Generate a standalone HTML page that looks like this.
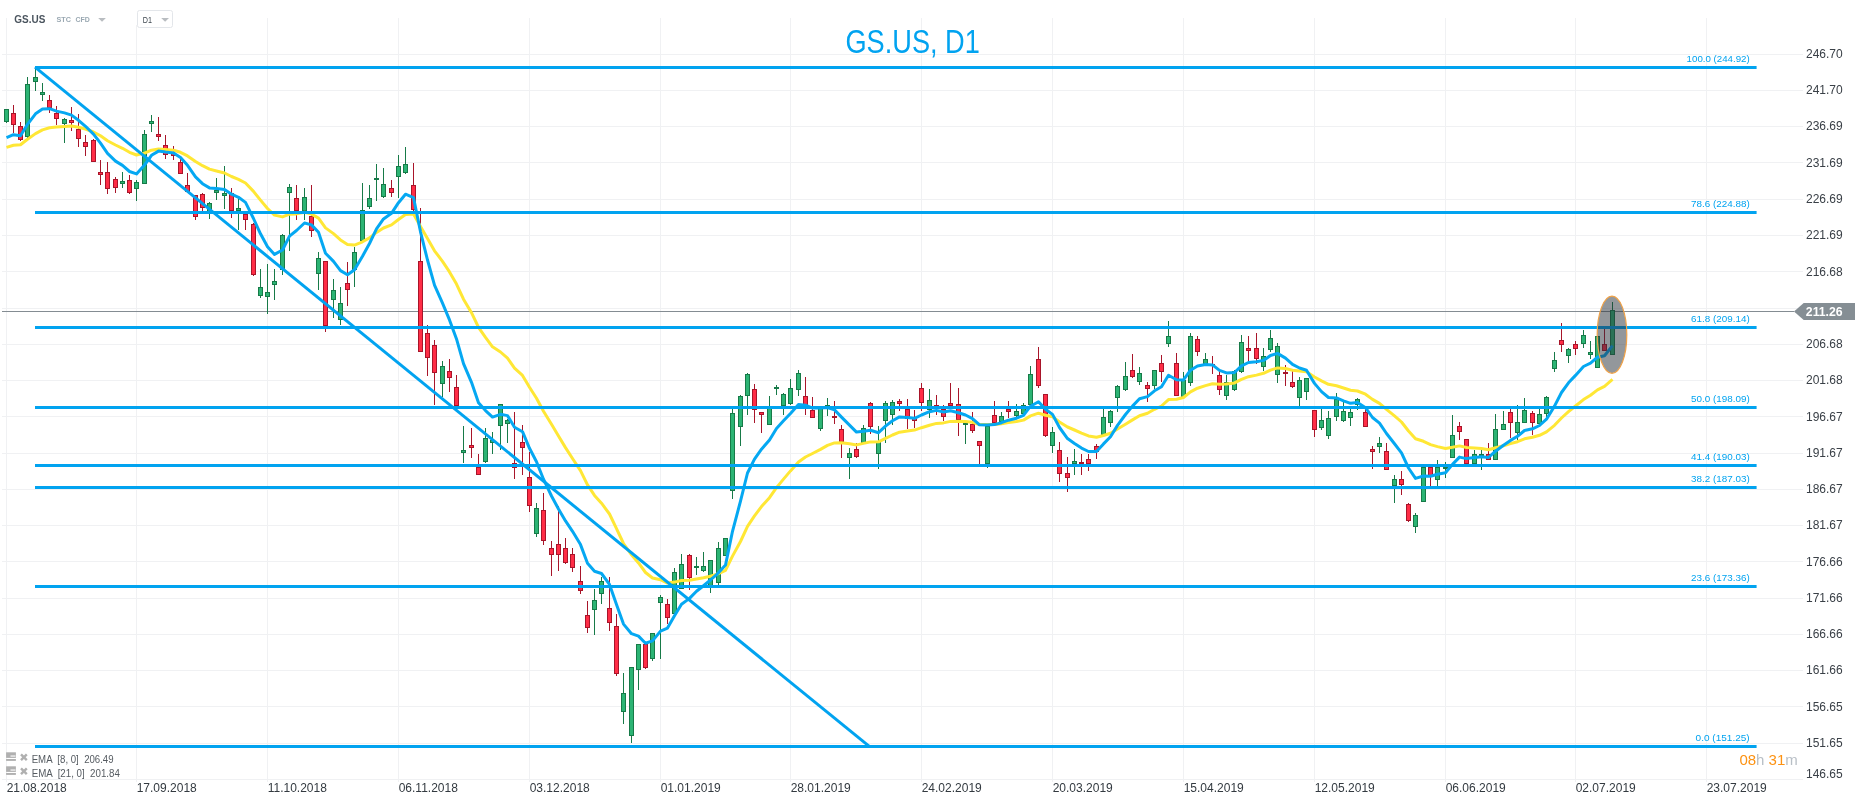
<!DOCTYPE html>
<html><head><meta charset="utf-8"><style>
html,body{margin:0;padding:0;background:#fff;width:1866px;height:805px;overflow:hidden;font-family:"Liberation Sans",sans-serif;}
svg{display:block;will-change:transform;} svg text{}
</style></head><body>
<svg width="1866" height="805" viewBox="0 0 1866 805">
<rect width="1866" height="805" fill="#ffffff"/>
<path d="M2 54.5H1803M2 90.5H1803M2 126.5H1803M2 162.5H1803M2 199.5H1803M2 235.5H1803M2 271.5H1803M2 308.5H1803M2 344.5H1803M2 380.5H1803M2 416.5H1803M2 453.5H1803M2 489.5H1803M2 525.5H1803M2 561.5H1803M2 598.5H1803M2 634.5H1803M2 670.5H1803M2 706.5H1803M2 743.5H1803M2 779.5H1803M6.5 18V782M136.5 25V782M267.5 18V782M398.5 18V782M529.5 18V782M660.5 18V782M790.5 18V782M921.5 18V782M1052.5 18V782M1183.5 18V782M1314.5 18V782M1445.5 18V782M1575.5 18V782M1706.5 18V782" stroke="#f0f1f3" stroke-width="1" fill="none" shape-rendering="crispEdges"/>
<path d="M2 311.5H1794" stroke="#848c92" stroke-width="1" shape-rendering="crispEdges"/>
<path d="M6.5 109V123M27.5 77V138M35.5 68V91M42.5 83V101M64.5 118V143M122.5 172V188M136.5 180V201M144.5 130V184M151.5 115V132M209.5 202V219M216.5 178V200M224.5 166V209M238.5 199V230M260.5 269V298M267.5 264V314M274.5 269V300M282.5 234V275M289.5 184V251M304.5 188V220M318.5 252V290M333.5 279V318M340.5 287V325M354.5 247V287M362.5 183V241M369.5 185V209M376.5 164V201M383.5 168V198M398.5 155V198M405.5 147V174M442.5 361V397M463.5 426V463M485.5 428V463M492.5 432V454M500.5 404V450M507.5 419V443M536.5 503V537M594.5 589V635M601.5 577V604M623.5 673V724M631.5 667V743M638.5 644V690M652.5 633V661M660.5 595V659M674.5 568V614M681.5 554V589M696.5 557V575M703.5 552V572M710.5 560V593M718.5 542V585M725.5 538V556M732.5 408V499M740.5 395V446M747.5 373V415M769.5 396V425M776.5 385V395M783.5 393V415M790.5 379V405M798.5 370V396M820.5 408V431M827.5 398V416M849.5 448V479M863.5 425V443M878.5 426V469M885.5 401V443M892.5 400V425M929.5 389V418M965.5 423V444M987.5 426V468M1001.5 412V423M1016.5 404V417M1023.5 403V415M1030.5 366V405M1052.5 427V453M1074.5 449V475M1103.5 409V435M1110.5 410V427M1117.5 385V412M1125.5 362V391M1139.5 367V385M1154.5 370V389M1168.5 321V347M1183.5 372V397M1190.5 333V386M1205.5 353V366M1226.5 375V400M1234.5 370V391M1241.5 335V373M1263.5 348V371M1270.5 330V352M1277.5 343V383M1299.5 377V406M1306.5 378V400M1321.5 409V430M1328.5 411V439M1336.5 393V421M1343.5 402V422M1350.5 409V426M1357.5 398V410M1379.5 437V453M1394.5 475V503M1415.5 513V533M1423.5 467V502M1437.5 460V486M1445.5 462V478M1452.5 415V458M1474.5 450V464M1481.5 450V470M1495.5 414V460M1503.5 411V430M1517.5 405V440M1524.5 398V423M1539.5 409V424M1546.5 396V417M1554.5 352V372M1568.5 348V363M1583.5 330V348M1590.5 341V359M1597.5 336V368M1612.5 302V355" stroke="#177a48" stroke-width="1" fill="none" shape-rendering="crispEdges"/>
<path d="M13.5 105V133M20.5 122V141M49.5 95V113M56.5 106V125M71.5 107V131M78.5 114V147M85.5 135V156M93.5 139V162M100.5 160V185M107.5 162V194M115.5 177V193M129.5 175V194M158.5 117V141M165.5 135V159M173.5 146V160M180.5 159V174M187.5 173V192M195.5 195V220M202.5 193V211M231.5 188V218M245.5 212V230M253.5 223V276M296.5 185V220M311.5 185V237M325.5 261V332M347.5 262V306M391.5 180V197M413.5 163V211M420.5 208V352M427.5 325V376M434.5 340V405M449.5 359V392M456.5 375V406M471.5 428V458M478.5 454V475M514.5 412V479M522.5 425V475M529.5 452V512M543.5 493V545M551.5 541V576M558.5 506V571M565.5 538V564M572.5 548V572M580.5 566V594M587.5 601V633M609.5 577V631M616.5 614V676M645.5 644V669M667.5 599V624M689.5 554V590M754.5 384V423M761.5 412V433M805.5 377V415M812.5 397V418M834.5 401V424M841.5 425V458M856.5 443V458M870.5 402V434M899.5 399V411M907.5 399V429M914.5 410V428M921.5 383V411M936.5 395V415M943.5 405V421M950.5 383V406M958.5 388V436M972.5 412V433M979.5 441V464M994.5 401V423M1008.5 401V418M1038.5 347V388M1045.5 394V437M1059.5 442V482M1067.5 457V492M1081.5 454V475M1088.5 454V471M1096.5 444V459M1132.5 354V378M1147.5 382V402M1161.5 355V382M1176.5 353V396M1197.5 336V356M1212.5 356V374M1219.5 371V395M1248.5 336V361M1256.5 333V364M1285.5 365V386M1292.5 371V388M1314.5 410V437M1365.5 406V427M1372.5 446V469M1386.5 443V470M1401.5 471V495M1408.5 503V522M1430.5 467V486M1459.5 422V440M1466.5 439V464M1488.5 443V460M1510.5 409V438M1532.5 411V435M1561.5 323V352M1575.5 341V355M1604.5 329V351" stroke="#a8152a" stroke-width="1" fill="none" shape-rendering="crispEdges"/>
<g fill="#2cb474" stroke="#177a48" stroke-width="1" shape-rendering="crispEdges"><rect x="4.5" y="109.5" width="4" height="12"/><rect x="25.5" y="84.5" width="4" height="52"/><rect x="33.5" y="77.5" width="4" height="4"/><rect x="40.5" y="92.5" width="4" height="2"/><rect x="62.5" y="119.5" width="4" height="4"/><rect x="120.5" y="181.5" width="4" height="2"/><rect x="134.5" y="182.5" width="4" height="6"/><rect x="142.5" y="134.5" width="4" height="49"/><rect x="149.5" y="121.5" width="4" height="2"/><rect x="207.5" y="203.5" width="4" height="9"/><rect x="214.5" y="190.5" width="4" height="2"/><rect x="222.5" y="193.5" width="4" height="2"/><rect x="236.5" y="208.5" width="4" height="2"/><rect x="258.5" y="287.5" width="4" height="8"/><rect x="265.5" y="292.5" width="4" height="4"/><rect x="272.5" y="281.5" width="4" height="3"/><rect x="280.5" y="235.5" width="4" height="34"/><rect x="287.5" y="187.5" width="4" height="5"/><rect x="302.5" y="197.5" width="4" height="13"/><rect x="316.5" y="258.5" width="4" height="15"/><rect x="331.5" y="290.5" width="4" height="9"/><rect x="338.5" y="303.5" width="4" height="16"/><rect x="352.5" y="252.5" width="4" height="17"/><rect x="360.5" y="210.5" width="4" height="30"/><rect x="367.5" y="198.5" width="4" height="8"/><rect x="374.5" y="178.5" width="4" height="1"/><rect x="381.5" y="184.5" width="4" height="12"/><rect x="396.5" y="166.5" width="4" height="10"/><rect x="403.5" y="164.5" width="4" height="8"/><rect x="440.5" y="366.5" width="4" height="17"/><rect x="461.5" y="450.5" width="4" height="2"/><rect x="483.5" y="438.5" width="4" height="23"/><rect x="490.5" y="440.5" width="4" height="2"/><rect x="498.5" y="404.5" width="4" height="21"/><rect x="505.5" y="420.5" width="4" height="3"/><rect x="534.5" y="508.5" width="4" height="25"/><rect x="592.5" y="600.5" width="4" height="9"/><rect x="599.5" y="581.5" width="4" height="12"/><rect x="621.5" y="693.5" width="4" height="18"/><rect x="629.5" y="667.5" width="4" height="68"/><rect x="636.5" y="644.5" width="4" height="25"/><rect x="650.5" y="633.5" width="4" height="25"/><rect x="658.5" y="597.5" width="4" height="5"/><rect x="672.5" y="572.5" width="4" height="41"/><rect x="679.5" y="564.5" width="4" height="24"/><rect x="694.5" y="566.5" width="4" height="1"/><rect x="701.5" y="566.5" width="4" height="4"/><rect x="708.5" y="560.5" width="4" height="25"/><rect x="716.5" y="548.5" width="4" height="34"/><rect x="723.5" y="538.5" width="4" height="17"/><rect x="730.5" y="413.5" width="4" height="77"/><rect x="738.5" y="396.5" width="4" height="30"/><rect x="745.5" y="374.5" width="4" height="21"/><rect x="767.5" y="408.5" width="4" height="16"/><rect x="774.5" y="387.5" width="4" height="1"/><rect x="781.5" y="394.5" width="4" height="11"/><rect x="788.5" y="388.5" width="4" height="15"/><rect x="796.5" y="373.5" width="4" height="16"/><rect x="818.5" y="408.5" width="4" height="20"/><rect x="825.5" y="405.5" width="4" height="2"/><rect x="847.5" y="453.5" width="4" height="4"/><rect x="861.5" y="428.5" width="4" height="14"/><rect x="876.5" y="442.5" width="4" height="11"/><rect x="883.5" y="403.5" width="4" height="17"/><rect x="890.5" y="402.5" width="4" height="12"/><rect x="927.5" y="400.5" width="4" height="9"/><rect x="963.5" y="423.5" width="4" height="1"/><rect x="985.5" y="426.5" width="4" height="37"/><rect x="999.5" y="416.5" width="4" height="5"/><rect x="1014.5" y="411.5" width="4" height="4"/><rect x="1021.5" y="405.5" width="4" height="8"/><rect x="1028.5" y="374.5" width="4" height="30"/><rect x="1050.5" y="432.5" width="4" height="13"/><rect x="1072.5" y="461.5" width="4" height="2"/><rect x="1101.5" y="417.5" width="4" height="17"/><rect x="1108.5" y="411.5" width="4" height="11"/><rect x="1115.5" y="386.5" width="4" height="11"/><rect x="1123.5" y="376.5" width="4" height="13"/><rect x="1137.5" y="373.5" width="4" height="8"/><rect x="1152.5" y="370.5" width="4" height="15"/><rect x="1166.5" y="336.5" width="4" height="7"/><rect x="1181.5" y="380.5" width="4" height="16"/><rect x="1188.5" y="336.5" width="4" height="46"/><rect x="1203.5" y="359.5" width="4" height="4"/><rect x="1224.5" y="382.5" width="4" height="13"/><rect x="1232.5" y="371.5" width="4" height="18"/><rect x="1239.5" y="342.5" width="4" height="29"/><rect x="1261.5" y="356.5" width="4" height="10"/><rect x="1268.5" y="338.5" width="4" height="11"/><rect x="1275.5" y="346.5" width="4" height="28"/><rect x="1297.5" y="380.5" width="4" height="17"/><rect x="1304.5" y="378.5" width="4" height="13"/><rect x="1319.5" y="420.5" width="4" height="7"/><rect x="1326.5" y="418.5" width="4" height="17"/><rect x="1334.5" y="399.5" width="4" height="17"/><rect x="1341.5" y="411.5" width="4" height="9"/><rect x="1348.5" y="412.5" width="4" height="5"/><rect x="1355.5" y="399.5" width="4" height="5"/><rect x="1377.5" y="443.5" width="4" height="3"/><rect x="1392.5" y="479.5" width="4" height="6"/><rect x="1413.5" y="515.5" width="4" height="11"/><rect x="1421.5" y="467.5" width="4" height="34"/><rect x="1435.5" y="467.5" width="4" height="12"/><rect x="1443.5" y="467.5" width="4" height="1"/><rect x="1450.5" y="435.5" width="4" height="22"/><rect x="1472.5" y="454.5" width="4" height="9"/><rect x="1479.5" y="454.5" width="4" height="1"/><rect x="1493.5" y="429.5" width="4" height="30"/><rect x="1501.5" y="424.5" width="4" height="5"/><rect x="1515.5" y="422.5" width="4" height="10"/><rect x="1522.5" y="410.5" width="4" height="12"/><rect x="1537.5" y="414.5" width="4" height="9"/><rect x="1544.5" y="397.5" width="4" height="16"/><rect x="1552.5" y="360.5" width="4" height="8"/><rect x="1566.5" y="349.5" width="4" height="6"/><rect x="1581.5" y="335.5" width="4" height="8"/><rect x="1588.5" y="352.5" width="4" height="2"/><rect x="1595.5" y="336.5" width="4" height="31"/><rect x="1610.5" y="310.5" width="4" height="44"/></g>
<g fill="#ff2d46" stroke="#a8152a" stroke-width="1" shape-rendering="crispEdges"><rect x="11.5" y="113.5" width="4" height="11"/><rect x="18.5" y="126.5" width="4" height="13"/><rect x="47.5" y="100.5" width="4" height="7"/><rect x="54.5" y="113.5" width="4" height="5"/><rect x="69.5" y="120.5" width="4" height="2"/><rect x="76.5" y="129.5" width="4" height="9"/><rect x="83.5" y="142.5" width="4" height="4"/><rect x="91.5" y="140.5" width="4" height="21"/><rect x="98.5" y="172.5" width="4" height="2"/><rect x="105.5" y="172.5" width="4" height="16"/><rect x="113.5" y="179.5" width="4" height="8"/><rect x="127.5" y="180.5" width="4" height="12"/><rect x="156.5" y="134.5" width="4" height="2"/><rect x="163.5" y="145.5" width="4" height="9"/><rect x="171.5" y="153.5" width="4" height="2"/><rect x="178.5" y="162.5" width="4" height="11"/><rect x="185.5" y="185.5" width="4" height="6"/><rect x="193.5" y="195.5" width="4" height="21"/><rect x="200.5" y="194.5" width="4" height="13"/><rect x="229.5" y="193.5" width="4" height="17"/><rect x="243.5" y="214.5" width="4" height="5"/><rect x="251.5" y="224.5" width="4" height="50"/><rect x="294.5" y="198.5" width="4" height="12"/><rect x="309.5" y="216.5" width="4" height="14"/><rect x="323.5" y="261.5" width="4" height="64"/><rect x="345.5" y="283.5" width="4" height="6"/><rect x="389.5" y="188.5" width="4" height="4"/><rect x="411.5" y="185.5" width="4" height="24"/><rect x="418.5" y="261.5" width="4" height="90"/><rect x="425.5" y="333.5" width="4" height="24"/><rect x="432.5" y="345.5" width="4" height="27"/><rect x="447.5" y="371.5" width="4" height="6"/><rect x="454.5" y="387.5" width="4" height="18"/><rect x="469.5" y="445.5" width="4" height="2"/><rect x="476.5" y="467.5" width="4" height="7"/><rect x="512.5" y="463.5" width="4" height="4"/><rect x="520.5" y="442.5" width="4" height="5"/><rect x="527.5" y="477.5" width="4" height="28"/><rect x="541.5" y="510.5" width="4" height="30"/><rect x="549.5" y="548.5" width="4" height="6"/><rect x="556.5" y="544.5" width="4" height="10"/><rect x="563.5" y="548.5" width="4" height="14"/><rect x="570.5" y="554.5" width="4" height="13"/><rect x="578.5" y="581.5" width="4" height="9"/><rect x="585.5" y="615.5" width="4" height="12"/><rect x="607.5" y="608.5" width="4" height="14"/><rect x="614.5" y="626.5" width="4" height="47"/><rect x="643.5" y="644.5" width="4" height="23"/><rect x="665.5" y="604.5" width="4" height="13"/><rect x="687.5" y="555.5" width="4" height="22"/><rect x="752.5" y="389.5" width="4" height="20"/><rect x="759.5" y="412.5" width="4" height="2"/><rect x="803.5" y="396.5" width="4" height="10"/><rect x="810.5" y="410.5" width="4" height="7"/><rect x="832.5" y="416.5" width="4" height="1"/><rect x="839.5" y="429.5" width="4" height="12"/><rect x="854.5" y="449.5" width="4" height="7"/><rect x="868.5" y="403.5" width="4" height="23"/><rect x="897.5" y="401.5" width="4" height="2"/><rect x="905.5" y="409.5" width="4" height="9"/><rect x="912.5" y="418.5" width="4" height="2"/><rect x="919.5" y="388.5" width="4" height="14"/><rect x="934.5" y="405.5" width="4" height="1"/><rect x="941.5" y="409.5" width="4" height="7"/><rect x="948.5" y="403.5" width="4" height="2"/><rect x="956.5" y="404.5" width="4" height="15"/><rect x="970.5" y="424.5" width="4" height="6"/><rect x="977.5" y="441.5" width="4" height="4"/><rect x="992.5" y="415.5" width="4" height="7"/><rect x="1006.5" y="409.5" width="4" height="2"/><rect x="1036.5" y="359.5" width="4" height="26"/><rect x="1043.5" y="394.5" width="4" height="41"/><rect x="1057.5" y="450.5" width="4" height="23"/><rect x="1065.5" y="473.5" width="4" height="4"/><rect x="1079.5" y="462.5" width="4" height="1"/><rect x="1086.5" y="459.5" width="4" height="4"/><rect x="1094.5" y="446.5" width="4" height="5"/><rect x="1130.5" y="370.5" width="4" height="6"/><rect x="1145.5" y="385.5" width="4" height="3"/><rect x="1159.5" y="363.5" width="4" height="8"/><rect x="1174.5" y="363.5" width="4" height="32"/><rect x="1195.5" y="339.5" width="4" height="12"/><rect x="1210.5" y="364.5" width="4" height="1"/><rect x="1217.5" y="375.5" width="4" height="14"/><rect x="1246.5" y="348.5" width="4" height="2"/><rect x="1254.5" y="348.5" width="4" height="10"/><rect x="1283.5" y="372.5" width="4" height="1"/><rect x="1290.5" y="382.5" width="4" height="4"/><rect x="1312.5" y="410.5" width="4" height="19"/><rect x="1363.5" y="412.5" width="4" height="14"/><rect x="1370.5" y="449.5" width="4" height="2"/><rect x="1384.5" y="451.5" width="4" height="18"/><rect x="1399.5" y="479.5" width="4" height="5"/><rect x="1406.5" y="504.5" width="4" height="16"/><rect x="1428.5" y="467.5" width="4" height="9"/><rect x="1457.5" y="426.5" width="4" height="5"/><rect x="1464.5" y="439.5" width="4" height="24"/><rect x="1486.5" y="454.5" width="4" height="5"/><rect x="1508.5" y="412.5" width="4" height="10"/><rect x="1530.5" y="413.5" width="4" height="9"/><rect x="1559.5" y="340.5" width="4" height="4"/><rect x="1573.5" y="344.5" width="4" height="4"/><rect x="1602.5" y="344.5" width="4" height="6"/></g>
<polyline points="6.5,147.4 13.5,145.3 20.5,144.8 27.5,139.3 35.5,133.6 42.5,129.9 49.5,127.8 56.5,127.1 64.5,126.4 71.5,126.0 78.5,127.2 85.5,129.0 93.5,132.0 100.5,135.8 107.5,140.7 115.5,145.0 122.5,148.3 129.5,152.3 136.5,155.0 144.5,153.1 151.5,150.2 158.5,149.0 165.5,149.5 173.5,150.2 180.5,152.3 187.5,155.9 195.5,161.5 202.5,165.7 209.5,169.1 216.5,171.0 224.5,173.0 231.5,176.5 238.5,179.3 245.5,183.0 253.5,191.4 260.5,200.1 267.5,208.5 274.5,215.1 282.5,216.9 289.5,214.2 296.5,213.9 304.5,212.3 311.5,214.1 318.5,218.1 325.5,227.9 333.5,233.6 340.5,239.9 347.5,244.4 354.5,245.1 362.5,241.8 369.5,237.9 376.5,232.4 383.5,228.0 391.5,224.9 398.5,219.5 405.5,214.5 413.5,214.1 420.5,226.6 427.5,238.5 434.5,250.8 442.5,261.3 449.5,271.9 456.5,284.1 463.5,299.2 471.5,312.7 478.5,327.4 485.5,337.4 492.5,346.8 500.5,352.0 507.5,358.2 514.5,368.1 522.5,375.4 529.5,387.3 536.5,398.3 543.5,411.2 551.5,424.3 558.5,436.1 565.5,447.6 572.5,458.5 580.5,470.6 587.5,484.9 594.5,495.4 601.5,503.2 609.5,514.0 616.5,528.6 623.5,543.5 631.5,554.8 638.5,562.9 645.5,572.5 652.5,578.0 660.5,579.7 667.5,583.1 674.5,582.1 681.5,580.5 689.5,580.3 696.5,579.0 703.5,577.8 710.5,576.2 718.5,573.6 725.5,570.4 732.5,556.1 740.5,541.5 747.5,526.3 754.5,515.8 761.5,506.6 769.5,497.7 776.5,487.6 783.5,479.1 790.5,470.9 798.5,462.0 805.5,457.0 812.5,453.5 820.5,449.4 827.5,445.4 834.5,442.9 841.5,442.8 849.5,443.8 856.5,444.9 863.5,443.4 870.5,441.9 878.5,441.8 885.5,438.3 892.5,435.0 899.5,432.2 907.5,431.0 914.5,430.1 921.5,427.7 929.5,425.2 936.5,423.4 943.5,422.9 950.5,421.4 958.5,421.2 965.5,421.4 972.5,422.3 979.5,424.5 987.5,424.6 994.5,424.5 1001.5,423.7 1008.5,422.6 1016.5,421.5 1023.5,420.1 1030.5,415.9 1038.5,413.2 1045.5,415.3 1052.5,416.8 1059.5,422.0 1067.5,427.0 1074.5,430.0 1081.5,433.1 1088.5,435.9 1096.5,437.3 1103.5,435.5 1110.5,433.3 1117.5,429.0 1125.5,424.2 1132.5,419.9 1139.5,415.7 1147.5,413.2 1154.5,409.3 1161.5,406.0 1168.5,399.6 1176.5,399.2 1183.5,397.5 1190.5,391.9 1197.5,388.2 1205.5,385.6 1212.5,383.8 1219.5,384.3 1226.5,384.1 1234.5,382.9 1241.5,379.3 1248.5,376.7 1256.5,375.1 1263.5,373.3 1270.5,370.1 1277.5,367.9 1285.5,368.5 1292.5,370.2 1299.5,371.1 1306.5,371.8 1314.5,377.0 1321.5,380.9 1328.5,384.3 1336.5,385.7 1343.5,388.0 1350.5,390.2 1357.5,391.0 1365.5,394.2 1372.5,399.4 1379.5,403.4 1386.5,409.4 1394.5,415.8 1401.5,422.0 1408.5,431.0 1415.5,438.7 1423.5,441.3 1430.5,444.6 1437.5,446.6 1445.5,448.5 1452.5,447.3 1459.5,445.9 1466.5,447.5 1474.5,448.1 1481.5,448.6 1488.5,449.7 1495.5,447.8 1503.5,445.7 1510.5,443.6 1517.5,441.7 1524.5,438.8 1532.5,437.3 1539.5,435.3 1546.5,431.8 1554.5,425.3 1561.5,418.0 1568.5,411.7 1575.5,406.0 1583.5,399.6 1590.5,395.2 1597.5,389.9 1604.5,386.3 1612.5,379.4" fill="none" stroke="#ffe735" stroke-width="3" stroke-linejoin="round"/>
<polyline points="6.5,137.6 13.5,134.7 20.5,135.8 27.5,124.3 35.5,113.8 42.5,109.0 49.5,108.7 56.5,111.1 64.5,112.9 71.5,115.1 78.5,120.3 85.5,126.3 93.5,134.1 100.5,143.2 107.5,153.4 115.5,161.1 122.5,165.4 129.5,171.5 136.5,173.9 144.5,165.0 151.5,155.3 158.5,151.1 165.5,152.1 173.5,153.0 180.5,157.6 187.5,165.3 195.5,176.9 202.5,183.7 209.5,187.9 216.5,188.4 224.5,189.5 231.5,194.2 238.5,197.3 245.5,202.4 253.5,218.5 260.5,233.8 267.5,246.7 274.5,254.4 282.5,250.0 289.5,236.1 296.5,230.5 304.5,223.0 311.5,224.9 318.5,232.3 325.5,253.2 333.5,261.4 340.5,270.6 347.5,274.8 354.5,269.7 362.5,256.3 369.5,243.5 376.5,228.9 383.5,218.9 391.5,213.3 398.5,202.7 405.5,194.2 413.5,197.6 420.5,231.8 427.5,260.0 434.5,285.1 442.5,303.2 449.5,319.9 456.5,338.9 463.5,363.6 471.5,382.3 478.5,402.8 485.5,410.6 492.5,417.1 500.5,414.3 507.5,415.6 514.5,427.2 522.5,431.7 529.5,448.3 536.5,461.7 543.5,479.2 551.5,496.0 558.5,509.0 565.5,520.9 572.5,531.3 580.5,544.6 587.5,563.2 594.5,571.3 601.5,573.5 609.5,584.4 616.5,604.4 623.5,624.1 631.5,633.7 638.5,636.1 645.5,643.2 652.5,640.9 660.5,631.1 667.5,628.1 674.5,615.7 681.5,604.2 689.5,598.4 696.5,591.2 703.5,585.7 710.5,580.0 718.5,572.8 725.5,565.1 732.5,531.3 740.5,501.2 747.5,473.0 754.5,459.1 761.5,449.2 769.5,440.1 776.5,428.4 783.5,420.8 790.5,413.5 798.5,404.5 805.5,405.2 812.5,408.1 820.5,408.1 827.5,407.5 834.5,409.9 841.5,417.1 849.5,425.1 856.5,432.1 863.5,431.2 870.5,430.2 878.5,432.7 885.5,426.1 892.5,420.8 899.5,416.9 907.5,417.4 914.5,418.3 921.5,415.0 929.5,411.7 936.5,410.4 943.5,412.0 950.5,410.7 958.5,412.7 965.5,415.0 972.5,418.6 979.5,424.8 987.5,425.1 994.5,424.6 1001.5,422.7 1008.5,420.2 1016.5,418.2 1023.5,415.3 1030.5,406.2 1038.5,401.7 1045.5,409.3 1052.5,414.4 1059.5,427.5 1067.5,438.6 1074.5,443.5 1081.5,448.1 1088.5,451.5 1096.5,451.6 1103.5,443.9 1110.5,436.7 1117.5,425.4 1125.5,414.5 1132.5,406.1 1139.5,398.8 1147.5,396.6 1154.5,390.8 1161.5,386.7 1168.5,375.3 1176.5,379.8 1183.5,379.9 1190.5,370.2 1197.5,366.0 1205.5,364.6 1212.5,364.9 1219.5,370.4 1226.5,372.9 1234.5,372.5 1241.5,365.8 1248.5,362.5 1256.5,361.8 1263.5,360.4 1270.5,355.5 1277.5,353.4 1285.5,358.1 1292.5,364.4 1299.5,368.0 1306.5,370.3 1314.5,383.4 1321.5,391.6 1328.5,397.5 1336.5,397.9 1343.5,400.8 1350.5,403.3 1357.5,402.4 1365.5,407.7 1372.5,417.5 1379.5,423.2 1386.5,433.5 1394.5,443.7 1401.5,452.8 1408.5,468.0 1415.5,478.4 1423.5,476.0 1430.5,476.3 1437.5,474.3 1445.5,472.7 1452.5,464.4 1459.5,457.1 1466.5,458.6 1474.5,457.6 1481.5,456.7 1488.5,457.5 1495.5,451.2 1503.5,445.2 1510.5,440.4 1517.5,436.3 1524.5,430.5 1532.5,428.8 1539.5,425.5 1546.5,419.2 1554.5,406.1 1561.5,392.5 1568.5,382.8 1575.5,375.4 1583.5,366.5 1590.5,363.2 1597.5,357.2 1604.5,355.8 1612.5,345.6" fill="none" stroke="#05a8f2" stroke-width="3" stroke-linejoin="round"/>
<path d="M35 67.5H1756.6M35 212.5H1756.6M35 327.5H1756.6M35 407.5H1756.6M35 465.5H1756.6M35 487.5H1756.6M35 586.5H1756.6M35 746.5H1756.6" stroke="#01a3f0" stroke-width="3" fill="none"/>
<path d="M35 67.2L869 746.2" stroke="#01a3f0" stroke-width="3" fill="none"/>
<text x="1686.6" y="61.8" textLength="63.1" lengthAdjust="spacingAndGlyphs" font-family="Liberation Sans, sans-serif" font-size="9.4" fill="#01a3f0">100.0 (244.92)</text>
<text x="1691.1" y="206.8" textLength="58.6" lengthAdjust="spacingAndGlyphs" font-family="Liberation Sans, sans-serif" font-size="9.4" fill="#01a3f0">78.6 (224.88)</text>
<text x="1691.1" y="321.8" textLength="58.6" lengthAdjust="spacingAndGlyphs" font-family="Liberation Sans, sans-serif" font-size="9.4" fill="#01a3f0">61.8 (209.14)</text>
<text x="1691.1" y="401.8" textLength="58.6" lengthAdjust="spacingAndGlyphs" font-family="Liberation Sans, sans-serif" font-size="9.4" fill="#01a3f0">50.0 (198.09)</text>
<text x="1691.1" y="459.8" textLength="58.6" lengthAdjust="spacingAndGlyphs" font-family="Liberation Sans, sans-serif" font-size="9.4" fill="#01a3f0">41.4 (190.03)</text>
<text x="1691.1" y="481.8" textLength="58.6" lengthAdjust="spacingAndGlyphs" font-family="Liberation Sans, sans-serif" font-size="9.4" fill="#01a3f0">38.2 (187.03)</text>
<text x="1691.1" y="580.8" textLength="58.6" lengthAdjust="spacingAndGlyphs" font-family="Liberation Sans, sans-serif" font-size="9.4" fill="#01a3f0">23.6 (173.36)</text>
<text x="1695.6" y="740.8" textLength="54.1" lengthAdjust="spacingAndGlyphs" font-family="Liberation Sans, sans-serif" font-size="9.4" fill="#01a3f0">0.0 (151.25)</text>
<ellipse cx="1612" cy="334.7" rx="14.8" ry="38.6" fill="rgba(40,48,56,0.5)" stroke="#f0a248" stroke-width="1.2"/>
<text x="1806" y="57.9" font-family="Liberation Sans, sans-serif" font-size="12" fill="#3a4047">246.70</text>
<text x="1806" y="94.2" font-family="Liberation Sans, sans-serif" font-size="12" fill="#3a4047">241.70</text>
<text x="1806" y="130.4" font-family="Liberation Sans, sans-serif" font-size="12" fill="#3a4047">236.69</text>
<text x="1806" y="166.7" font-family="Liberation Sans, sans-serif" font-size="12" fill="#3a4047">231.69</text>
<text x="1806" y="203.0" font-family="Liberation Sans, sans-serif" font-size="12" fill="#3a4047">226.69</text>
<text x="1806" y="239.2" font-family="Liberation Sans, sans-serif" font-size="12" fill="#3a4047">221.69</text>
<text x="1806" y="275.5" font-family="Liberation Sans, sans-serif" font-size="12" fill="#3a4047">216.68</text>
<text x="1806" y="348.0" font-family="Liberation Sans, sans-serif" font-size="12" fill="#3a4047">206.68</text>
<text x="1806" y="384.3" font-family="Liberation Sans, sans-serif" font-size="12" fill="#3a4047">201.68</text>
<text x="1806" y="420.5" font-family="Liberation Sans, sans-serif" font-size="12" fill="#3a4047">196.67</text>
<text x="1806" y="456.8" font-family="Liberation Sans, sans-serif" font-size="12" fill="#3a4047">191.67</text>
<text x="1806" y="493.1" font-family="Liberation Sans, sans-serif" font-size="12" fill="#3a4047">186.67</text>
<text x="1806" y="529.3" font-family="Liberation Sans, sans-serif" font-size="12" fill="#3a4047">181.67</text>
<text x="1806" y="565.6" font-family="Liberation Sans, sans-serif" font-size="12" fill="#3a4047">176.66</text>
<text x="1806" y="601.8" font-family="Liberation Sans, sans-serif" font-size="12" fill="#3a4047">171.66</text>
<text x="1806" y="638.1" font-family="Liberation Sans, sans-serif" font-size="12" fill="#3a4047">166.66</text>
<text x="1806" y="674.4" font-family="Liberation Sans, sans-serif" font-size="12" fill="#3a4047">161.66</text>
<text x="1806" y="710.6" font-family="Liberation Sans, sans-serif" font-size="12" fill="#3a4047">156.65</text>
<text x="1806" y="746.9" font-family="Liberation Sans, sans-serif" font-size="12" fill="#3a4047">151.65</text>
<text x="1806" y="777.9" font-family="Liberation Sans, sans-serif" font-size="12" fill="#3a4047">146.65</text>
<path d="M1794 311.5L1803.7 303H1855V320H1803.7Z" fill="#858e94"/>
<text x="1805.8" y="315.9" textLength="36.9" lengthAdjust="spacingAndGlyphs" font-family="Liberation Sans, sans-serif" font-size="12.2" font-weight="bold" fill="#ffffff">211.26</text>
<text x="6.7" y="792" font-family="Liberation Sans, sans-serif" font-size="12" fill="#333a40">21.08.2018</text>
<text x="136.7" y="792" font-family="Liberation Sans, sans-serif" font-size="12" fill="#333a40">17.09.2018</text>
<text x="267.7" y="792" font-family="Liberation Sans, sans-serif" font-size="12" fill="#333a40">11.10.2018</text>
<text x="398.7" y="792" font-family="Liberation Sans, sans-serif" font-size="12" fill="#333a40">06.11.2018</text>
<text x="529.7" y="792" font-family="Liberation Sans, sans-serif" font-size="12" fill="#333a40">03.12.2018</text>
<text x="660.7" y="792" font-family="Liberation Sans, sans-serif" font-size="12" fill="#333a40">01.01.2019</text>
<text x="790.7" y="792" font-family="Liberation Sans, sans-serif" font-size="12" fill="#333a40">28.01.2019</text>
<text x="921.7" y="792" font-family="Liberation Sans, sans-serif" font-size="12" fill="#333a40">24.02.2019</text>
<text x="1052.7" y="792" font-family="Liberation Sans, sans-serif" font-size="12" fill="#333a40">20.03.2019</text>
<text x="1183.7" y="792" font-family="Liberation Sans, sans-serif" font-size="12" fill="#333a40">15.04.2019</text>
<text x="1314.7" y="792" font-family="Liberation Sans, sans-serif" font-size="12" fill="#333a40">12.05.2019</text>
<text x="1445.7" y="792" font-family="Liberation Sans, sans-serif" font-size="12" fill="#333a40">06.06.2019</text>
<text x="1575.7" y="792" font-family="Liberation Sans, sans-serif" font-size="12" fill="#333a40">02.07.2019</text>
<text x="1706.7" y="792" font-family="Liberation Sans, sans-serif" font-size="12" fill="#333a40">23.07.2019</text>
<text x="845.5" y="53.2" textLength="134.3" lengthAdjust="spacingAndGlyphs" font-family="Liberation Sans, sans-serif" font-size="33.5" fill="#01a3f0">GS.US, D1</text>
<text x="14.3" y="22.8" textLength="31" lengthAdjust="spacingAndGlyphs" font-family="Liberation Sans, sans-serif" font-size="10.6" font-weight="bold" fill="#4a545e">GS.US</text>
<text x="56.4" y="21.9" textLength="14.5" lengthAdjust="spacingAndGlyphs" font-family="Liberation Sans, sans-serif" font-size="7.6" font-weight="bold" fill="#9aa8b2">STC</text>
<text x="75.4" y="21.9" textLength="14.3" lengthAdjust="spacingAndGlyphs" font-family="Liberation Sans, sans-serif" font-size="7.6" font-weight="bold" fill="#9aa8b2">CFD</text>
<path d="M98.2 18H105.9L102.05 21.7Z" fill="#b9bdc1"/>
<rect x="137.5" y="10.5" width="35" height="17" rx="2" fill="#ffffff" stroke="#e3e6ea"/>
<text x="142.7" y="22.8" textLength="9.2" lengthAdjust="spacingAndGlyphs" font-family="Liberation Sans, sans-serif" font-size="9.8" fill="#3f4850">D1</text>
<path d="M161.2 18H169L165.1 21.8Z" fill="#b9bdc1"/>
<rect x="6.1" y="752.3" width="9.8" height="5.6" fill="#b0b0b0"/>
<rect x="10.5" y="755.5" width="5" height="1.1" fill="#ffffff"/>
<rect x="6.1" y="759.0" width="9.8" height="1.9" fill="#b0b0b0"/>
<path d="M21 754.3L26.8 760.0999999999999M26.8 754.3L21 760.0999999999999" stroke="#b0b0b0" stroke-width="2.4"/>
<text x="31.7" y="762.8" textLength="81.9" lengthAdjust="spacingAndGlyphs" font-family="Liberation Sans, sans-serif" font-size="10" fill="#555b61" xml:space="preserve">EMA  [8, 0]  206.49</text>
<rect x="6.1" y="766.3" width="9.8" height="5.6" fill="#b0b0b0"/>
<rect x="10.5" y="769.5" width="5" height="1.1" fill="#ffffff"/>
<rect x="6.1" y="773.0" width="9.8" height="1.9" fill="#b0b0b0"/>
<path d="M21 768.3L26.8 774.0999999999999M26.8 768.3L21 774.0999999999999" stroke="#b0b0b0" stroke-width="2.4"/>
<text x="31.7" y="776.8" textLength="88.2" lengthAdjust="spacingAndGlyphs" font-family="Liberation Sans, sans-serif" font-size="10" fill="#555b61" xml:space="preserve">EMA  [21, 0]  201.84</text>
<text x="1739.4" y="765.4" font-family="Liberation Sans, sans-serif" font-size="15"><tspan fill="#fd9212">08</tspan><tspan fill="#b8bfc6">h </tspan><tspan fill="#fd9212">31</tspan><tspan fill="#b8bfc6">m</tspan></text>
</svg>
</body></html>
